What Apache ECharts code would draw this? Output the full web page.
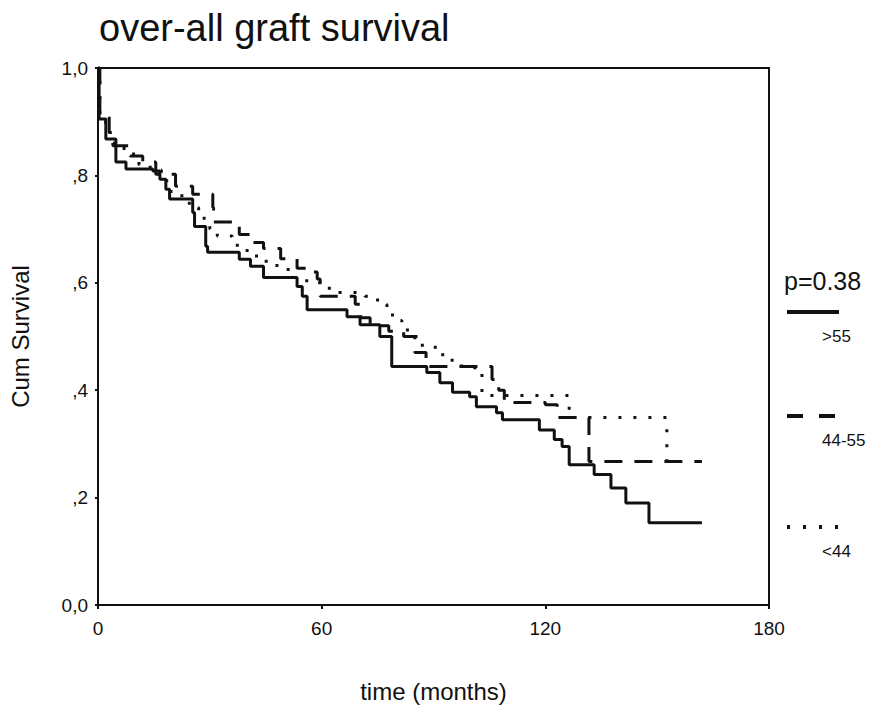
<!DOCTYPE html>
<html>
<head>
<meta charset="utf-8">
<script src="https://cdn.jsdelivr.net/npm/echarts@6/dist/echarts.min.js"></script>
<style>
  html, body { margin: 0; padding: 0; background: #fff; }
  #chart { width: 884px; height: 714px; }
</style>
</head>
<body>
<div id="chart"></div>
<script>
// ─── data: Kaplan-Meier steps, [months, cum survival] ───
const xTicks = [0, 60, 120, 180];
const yTicks = [0, 0.2, 0.4, 0.6, 0.8, 1.0];
const groups = ['>55', '44-55', '<44'];
const pValue = 'p=0.38';

const over55 = [
  [0, 1.0], [0.3, 0.905], [2.1, 0.868], [4.8, 0.825], [7.5, 0.812], [14.7, 0.808],
  [16.6, 0.793], [18.2, 0.774], [19.2, 0.756], [25.4, 0.731], [25.9, 0.705],
  [28.9, 0.668], [29.4, 0.657], [37.9, 0.644], [40.9, 0.631], [44.4, 0.61],
  [53.4, 0.593], [54.8, 0.575], [56.1, 0.55], [66.8, 0.537], [70.3, 0.522],
  [75.6, 0.50], [78.8, 0.444], [88.2, 0.433], [91.7, 0.414], [95.1, 0.396],
  [99.7, 0.388], [101.5, 0.369], [106.9, 0.358], [108.5, 0.345], [118.4, 0.326],
  [122.4, 0.308], [124.5, 0.295], [126.4, 0.261], [133.1, 0.243], [137.6, 0.218],
  [141.6, 0.19], [147.8, 0.153], [162, 0.153]
];

const from44to55 = [
  [0, 1.0], [0.5, 0.91], [3, 0.88], [4, 0.855], [8.6, 0.836], [12, 0.825],
  [15.5, 0.802], [20.8, 0.78], [25.4, 0.765], [30.8, 0.74], [31, 0.713],
  [37.9, 0.69], [40.9, 0.675], [44.4, 0.664], [49, 0.645], [53.4, 0.627],
  [57, 0.62], [58.8, 0.607], [59.6, 0.575], [69, 0.56], [70.5, 0.535],
  [73, 0.52], [78, 0.51], [82, 0.50], [85, 0.47], [88, 0.444], [105.7, 0.42],
  [107.5, 0.40], [109, 0.377], [120, 0.373], [123.2, 0.349], [131.7, 0.267],
  [162, 0.267]
];

const under44 = [
  [0, 1.0], [0.5, 0.90], [2, 0.88], [4, 0.86], [7, 0.84], [11, 0.82], [14, 0.81],
  [17, 0.79], [19, 0.77], [22.5, 0.755], [24.5, 0.74], [27, 0.72], [30, 0.70],
  [32, 0.687], [36, 0.67], [40, 0.65], [44, 0.64], [48, 0.625], [52, 0.61],
  [56, 0.60], [60, 0.59], [64, 0.582], [71.6, 0.575], [75, 0.56], [77.5, 0.547],
  [79, 0.53], [81.5, 0.517], [83, 0.50], [87, 0.48], [91.7, 0.466], [95, 0.45],
  [97.5, 0.442], [103, 0.39], [126.4, 0.349], [152.6, 0.267]
];

const FONT = '"Liberation Sans", Arial, sans-serif';

function yLabel(v) {
  const s = v.toFixed(1).replace('.', ',');
  return (v === 0 || v === 1) ? s : s.replace(/^0/, '');
}

function kmSeries(name, data, dash) {
  return {
    name: name,
    type: 'line',
    step: 'end',
    data: data,
    symbol: 'none',
    animation: false,
    lineStyle: { color: '#111', width: 3, type: dash, cap: 'butt' }
  };
}

const chart = echarts.init(document.getElementById('chart'), null, { renderer: 'svg' });

// legend block on the right (p value, line samples, group labels)
const legendX = 787;
const legendRows = [
  { y: 312, dash: 'solid' },
  { y: 416, dash: [16, 16] },
  { y: 527, dash: [3, 13] }
];
const graphics = [{
  type: 'text', left: 784, top: 268,
  style: { text: pValue, font: '25px ' + FONT, fill: '#111' }
}];
legendRows.forEach((r, i) => {
  graphics.push({
    type: 'line',
    shape: { x1: legendX, y1: r.y, x2: legendX + 52, y2: r.y },
    style: { stroke: '#111', lineWidth: 4, lineDash: r.dash === 'solid' ? null : r.dash }
  });
  graphics.push({
    type: 'text', left: 822, top: r.y + 16,
    style: { text: groups[i], font: '17px ' + FONT, fill: '#111' }
  });
});

chart.setOption({
  backgroundColor: '#fff',
  animation: false,
  title: {
    text: 'over-all graft survival',
    left: 94, top: 4,
    textStyle: { fontFamily: FONT, fontSize: 38, fontWeight: 'normal', color: '#111' }
  },
  grid: { left: 96, right: 115, top: 68, bottom: 109, show: true, borderColor: '#111', borderWidth: 2 },
  xAxis: {
    type: 'value', min: xTicks[0], max: xTicks[xTicks.length - 1], interval: 60,
    name: 'time (months)', nameLocation: 'middle', nameGap: 74,
    nameTextStyle: { fontFamily: FONT, fontSize: 24, color: '#111' },
    axisLine: { show: true, lineStyle: { color: '#111', width: 2 } },
    axisTick: { show: true, length: 4, lineStyle: { color: '#111', width: 2 } },
    axisLabel: { fontFamily: FONT, fontSize: 19, color: '#111', margin: 14 },
    splitLine: { show: false }
  },
  yAxis: {
    type: 'value', min: yTicks[0], max: yTicks[yTicks.length - 1], interval: 0.2,
    name: 'Cum Survival', nameLocation: 'middle', nameGap: 66,
    nameTextStyle: { fontFamily: FONT, fontSize: 24, color: '#111' },
    axisLine: { show: true, lineStyle: { color: '#111', width: 2 } },
    axisTick: { show: true, length: 3, lineStyle: { color: '#111', width: 2 } },
    axisLabel: { fontFamily: FONT, fontSize: 19, color: '#111', margin: 10, formatter: yLabel },
    splitLine: { show: false }
  },
  graphic: graphics,
  series: [
    kmSeries(groups[0], over55, 'solid'),
    kmSeries(groups[1], from44to55, [18, 12]),
    kmSeries(groups[2], under44, [3, 12])
  ]
});
</script>
</body>
</html>
